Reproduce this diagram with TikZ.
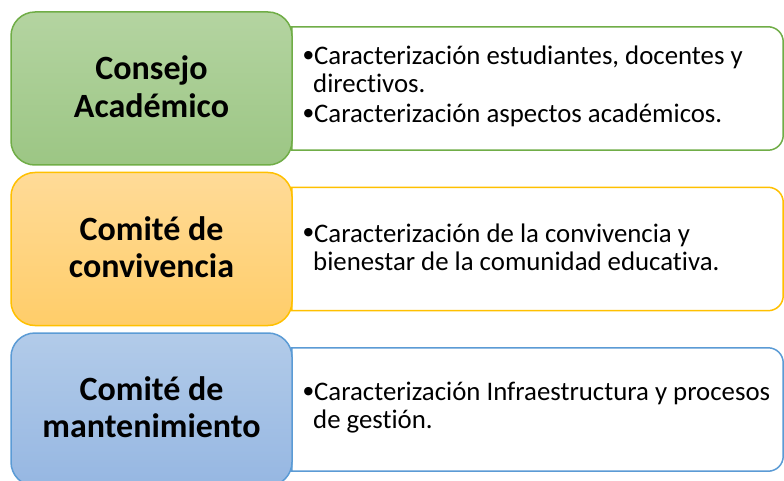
\documentclass[tikz,border=0pt]{standalone}
\usepackage{fontspec}
\setmainfont{Carlito}[Ligatures=NoCommon]
\newfontfamily\symfont{DejaVu Sans}
\definecolor{gB}{HTML}{70AD47}
\definecolor{gT}{HTML}{B4D4A1}
\definecolor{gD}{HTML}{9CC684}
\definecolor{yB}{HTML}{FFC000}
\definecolor{yT}{HTML}{FFDB98}
\definecolor{yD}{HTML}{FFCD69}
\definecolor{bB}{HTML}{5B9BD5}
\definecolor{bT}{HTML}{B2CBE9}
\definecolor{bD}{HTML}{96B7E2}
\newcommand{\bulletbox}{\makebox[12pt][l]{\hspace{1.5pt}\raisebox{6pt}{\symfont\fontsize{11}{11}\selectfont ●}}}
\tikzset{
  lbox/.style={rectangle, rounded corners=24pt, line width=1.5pt,
    minimum width=281pt, minimum height=153pt, inner sep=0pt},
  rbox/.style={rectangle, draw=none, fill=white,
    minimum width=491pt, minimum height=123pt, inner sep=0pt},
  rborder/.style={line width=1.5pt},
  ttext/.style={inner sep=0pt, anchor=base, font=\fontsize{34}{37.5}\selectfont\bfseries},
  btext/.style={inner sep=0pt, anchor=base west, font=\fontsize{26.8}{28}\selectfont},
}
\begin{document}
\begin{tikzpicture}[x=1pt,y=1pt]
\useasboundingbox (0,0) rectangle (784,480);
\clip (0,0) rectangle (784,480);
% right boxes
\node[rbox] (r1) at (537.5,391.5) {};
\node[rbox] (r2) at (537.5,231) {};
\node[rbox] (r3) at (537.5,70.5) {};
\foreach \r/\c in {r1/gB, r2/yB, r3/bB}{
  \draw[rborder, draw=\c] (\r.north west) -- ([xshift=-15pt]\r.north east)
    arc[start angle=90, end angle=0, radius=15pt]
    -- ([yshift=15pt]\r.south east)
    arc[start angle=0, end angle=-90, radius=15pt]
    -- (\r.south west) -- cycle;
}
% left boxes
\node[lbox, draw=gB, top color=gT, bottom color=gD] (l1) at (151.5,391.5) {};
\node[lbox, draw=yB, top color=yT, bottom color=yD] (l2) at (151.5,231) {};
\node[lbox, draw=bB, top color=bT, bottom color=bD] (l3) at (151.5,70.5) {};
% titles
\node[ttext] (h1) at (151.5,400) {\begin{tabular}[t]{@{}c@{}}Consejo\\Académico\end{tabular}};
\node[ttext] (h2) at (151.5,240) {\begin{tabular}[t]{@{}c@{}}Comité de\\convivencia\end{tabular}};
\node[ttext] (h3) at (151.5,80) {\begin{tabular}[t]{@{}c@{}}Comité de\\mantenimiento\end{tabular}};
% bullet texts
\node[btext] (t1) at (302,415) {\begin{tabular}[t]{@{}l@{}}
\bulletbox Caracterización estudiantes, docentes y\\
\hspace*{11pt}directivos.\\[2pt]
\bulletbox Caracterización aspectos académicos.
\end{tabular}};
\node[btext] (t2) at (302,238) {\begin{tabular}[t]{@{}l@{}}
\bulletbox Caracterización de la convivencia y\\
\hspace*{11pt}bienestar de la comunidad educativa.
\end{tabular}};
\node[btext] (t3) at (302,80) {\begin{tabular}[t]{@{}l@{}}
\bulletbox Caracterización Infraestructura y procesos\\
\hspace*{11pt}de gestión.
\end{tabular}};
\end{tikzpicture}
\end{document}
